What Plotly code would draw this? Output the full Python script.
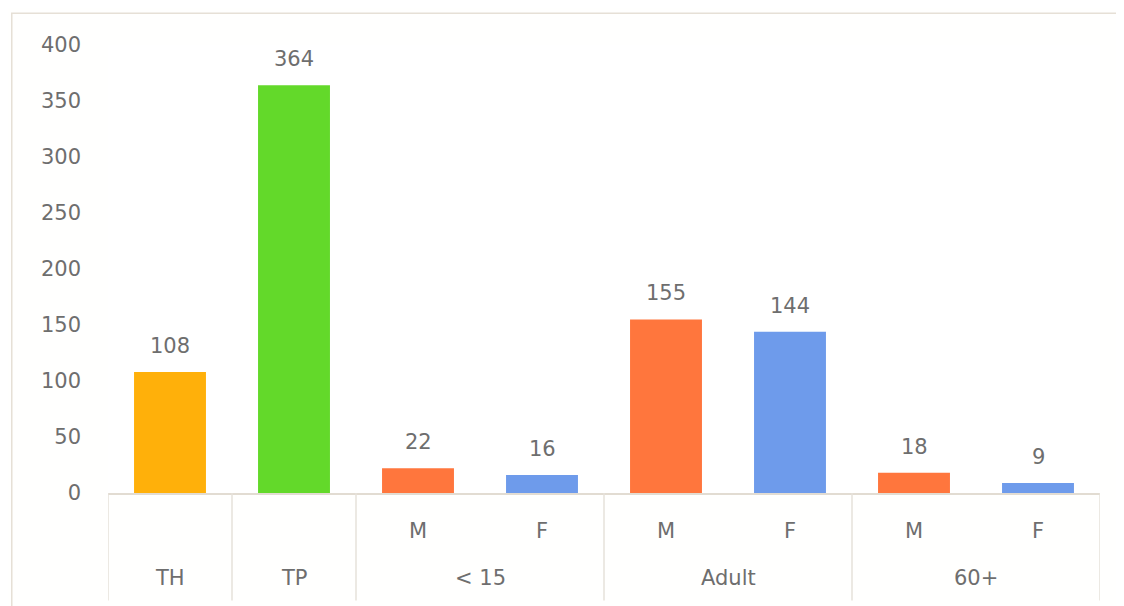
import plotly.graph_objects as go

groups = ["TH", "TP", "< 15", "< 15", "Adult", "Adult", "60+", "60+"]
sexes = ["", "", "M", "F", "M", "F", "M", "F"]
values = [108, 364, 22, 16, 155, 144, 18, 9]
colors = ["#FFB00A", "#63D92A", "#FF763D", "#6E9BEB", "#FF763D", "#6E9BEB", "#FF763D", "#6E9BEB"]
y_ticks = [0, 50, 100, 150, 200, 250, 300, 350, 400]

FONT = "DejaVu Sans, Verdana, sans-serif"
TXT = "#6E6E6E"
xs = list(range(len(values)))

fig = go.Figure(go.Bar(
    x=xs,
    y=values,
    marker=dict(color=colors, line=dict(width=0)),
    width=0.58,
    hoverinfo="x+y",
))

# value labels above bars
for x, v in zip(xs, values):
    fig.add_annotation(x=x, y=v, text=str(v), showarrow=False, xref="x", yref="y",
                       yanchor="bottom", yshift=12,
                       font=dict(family=FONT, size=21, color=TXT))

# outer group labels and dividers
spans = []
start = 0
for i in range(1, len(groups) + 1):
    if i == len(groups) or groups[i] != groups[start]:
        spans.append((groups[start], start, i - 1))
        start = i
shapes = []
for name, a, b in spans:
    fig.add_annotation(x=(a + b) / 2, y=-0.19, xref="x", yref="paper", text=name,
                       showarrow=False, yanchor="middle",
                       font=dict(family=FONT, size=21, color=TXT))
bounds = sorted({a - 0.5 for _, a, _ in spans} | {b + 0.5 for _, _, b in spans})
for bx in bounds:
    shapes.append(dict(type="line", xref="x", yref="paper", x0=bx, x1=bx, y0=0, y1=-0.24,
                       line=dict(color="#E6E2DA", width=1.5)))

# outer frame
shapes.append(dict(type="rect", xref="paper", yref="paper",
                   x0=-0.097, x1=1.018, y0=-0.35, y1=1.071,
                   line=dict(color="#E6E0D6", width=1.5), layer="below"))

fig.update_layout(
    width=1116, height=598,
    margin=dict(l=100, r=24, t=37, b=113),
    paper_bgcolor="#FFFFFE",
    plot_bgcolor="#FFFFFF",
    showlegend=False,
    font=dict(family=FONT, size=21, color=TXT),
    xaxis=dict(
        range=[-0.5, len(values) - 0.5],
        tickvals=xs, ticktext=sexes,
        showline=True, linecolor="#E2DCD2", linewidth=1.5,
        ticks="", ticklabelstandoff=18, showgrid=False, zeroline=False,
        tickfont=dict(family=FONT, size=21, color=TXT),
    ),
    yaxis=dict(
        range=[0, 400], tickvals=y_ticks, showgrid=False, zeroline=False,
        showline=False, ticks="", ticklabelstandoff=26,
        tickfont=dict(family=FONT, size=21, color=TXT),
    ),
    shapes=shapes,
)

fig.write_html("out.html")
